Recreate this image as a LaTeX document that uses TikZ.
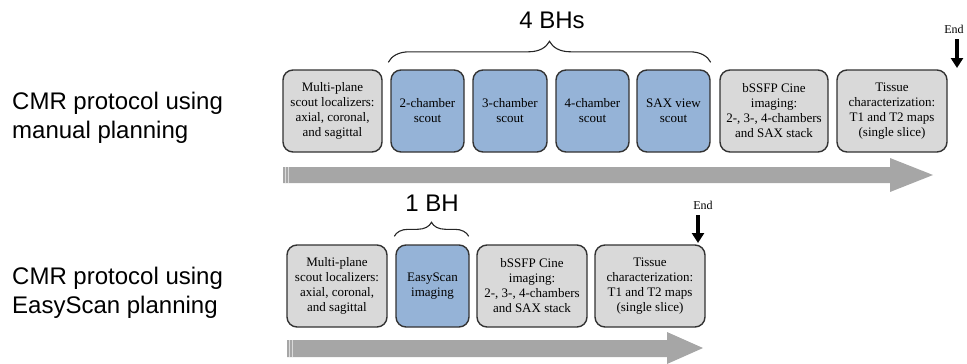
\documentclass[tikz,border=0pt]{standalone}
\usepackage{fontspec}
\setmainfont{Liberation Serif}
\newfontfamily\arialfont{Liberation Sans}
\usetikzlibrary{arrows.meta,decorations.pathreplacing}
\definecolor{boxgray}{HTML}{D9D9D9}
\definecolor{boxblue}{HTML}{95B3D7}
\definecolor{boxline}{HTML}{333333}
\definecolor{bandgray}{HTML}{A6A6A6}
\definecolor{bandlight}{HTML}{DADADA}
\tikzset{
  stepbox/.style={draw=boxline, line width=1.4pt, rounded corners=10pt,
    minimum height=82pt, inner sep=2pt, align=center,
    font=\fontsize{13}{15}\selectfont},
  graybox/.style={stepbox, fill=boxgray},
  bluebox/.style={stepbox, fill=boxblue},
  sidelabel/.style={anchor=west, inner sep=0pt, align=left,
    font=\arialfont\fontsize{24}{28.5}\selectfont},
  bhlabel/.style={inner sep=0pt, font=\arialfont\fontsize{24}{28}\selectfont},
  endlabel/.style={inner sep=0pt, font=\fontsize{12}{14}\selectfont},
  endarrow/.style={line width=3.5pt, -{Triangle[length=10pt,width=12pt]}},
  bracestyle/.style={line width=1.1pt, draw=black!85,
    decorate, decoration={brace, amplitude=#1}},
  band/.style={fill=bandgray, draw=none}
}
\begin{document}
\begin{tikzpicture}[x=1pt,y=-1pt]
\useasboundingbox (0,0) rectangle (967,364);

% side labels
\node[sidelabel] (lab1) at (12,118) {CMR protocol using\\manual planning};
\node[sidelabel] (lab2) at (12,293) {CMR protocol using\\EasyScan planning};

% timeline bands
\fill[band] (283,167) -- (890,167) -- (890,158) -- (933,175) -- (890,192)
  -- (890,183) -- (283,183) -- cycle;
\fill[band] (287,340) -- (667,340) -- (667,332) -- (703,348) -- (667,364)
  -- (667,357) -- (287,357) -- cycle;
\foreach \xx in {285.5,288.5} {
  \draw[bandlight, line width=0.8pt] (\xx,167) -- (\xx,183);
  \draw[bandlight, line width=0.8pt] (\xx+4,340) -- (\xx+4,357);
}

% top row
\node[graybox, minimum width=99pt] (m1) at (332.5,111)
  {Multi-plane\\scout localizers:\\axial, coronal,\\and sagittal};
\node[bluebox, minimum width=73pt] (c2) at (427.5,111) {2-chamber\\scout};
\node[bluebox, minimum width=74pt] (c3) at (510,111) {3-chamber\\scout};
\node[bluebox, minimum width=73pt] (c4) at (592.5,111) {4-chamber\\scout};
\node[bluebox, minimum width=73pt] (sax) at (673.5,111) {SAX view\\scout};
\node[graybox, minimum width=108pt] (cine1) at (774,111)
  {bSSFP Cine\\imaging:\\2-, 3-, 4-chambers\\and SAX stack};
\node[graybox, minimum width=110pt] (tis1) at (892,111)
  {Tissue\\characterization:\\T1 and T2 maps\\(single slice)};

% bottom row
\node[graybox, minimum width=100pt] (m2) at (337,286)
  {Multi-plane\\scout localizers:\\axial, coronal,\\and sagittal};
\node[bluebox, minimum width=73pt] (es) at (432.5,286) {EasyScan\\imaging};
\node[graybox, minimum width=110pt] (cine2) at (532,286)
  {bSSFP Cine\\imaging:\\2-, 3-, 4-chambers\\and SAX stack};
\node[graybox, minimum width=110pt] (tis2) at (650,286)
  {Tissue\\characterization:\\T1 and T2 maps\\(single slice)};

% braces
\coordinate (b1s) at ([xshift=-2pt,yshift=7pt]c2.north west);
\coordinate (b1e) at ([xshift=0pt,yshift=7pt]sax.north east);
\draw[bracestyle=21pt] (b1s) -- (b1e);
\node[bhlabel] (bh4) at (552,20) {4 BHs};
\coordinate (b2s) at ([xshift=-1pt,yshift=8pt]es.north west);
\coordinate (b2e) at ([xshift=-1pt,yshift=8pt]es.north east);
\draw[bracestyle=14pt] (b2s) -- (b2e);
\node[bhlabel] (bh1) at (432,203) {1 BH};

% end markers
\node[endlabel] (end1) at (954,29) {End};
\coordinate (e1a) at (957,39);
\coordinate (e1b) at (957,68);
\draw[endarrow] (e1a) -- (e1b);
\node[endlabel] (end2) at (703,205) {End};
\coordinate (e2a) at (698,215);
\coordinate (e2b) at (698,243);
\draw[endarrow] (e2a) -- (e2b);
\end{tikzpicture}
\end{document}
